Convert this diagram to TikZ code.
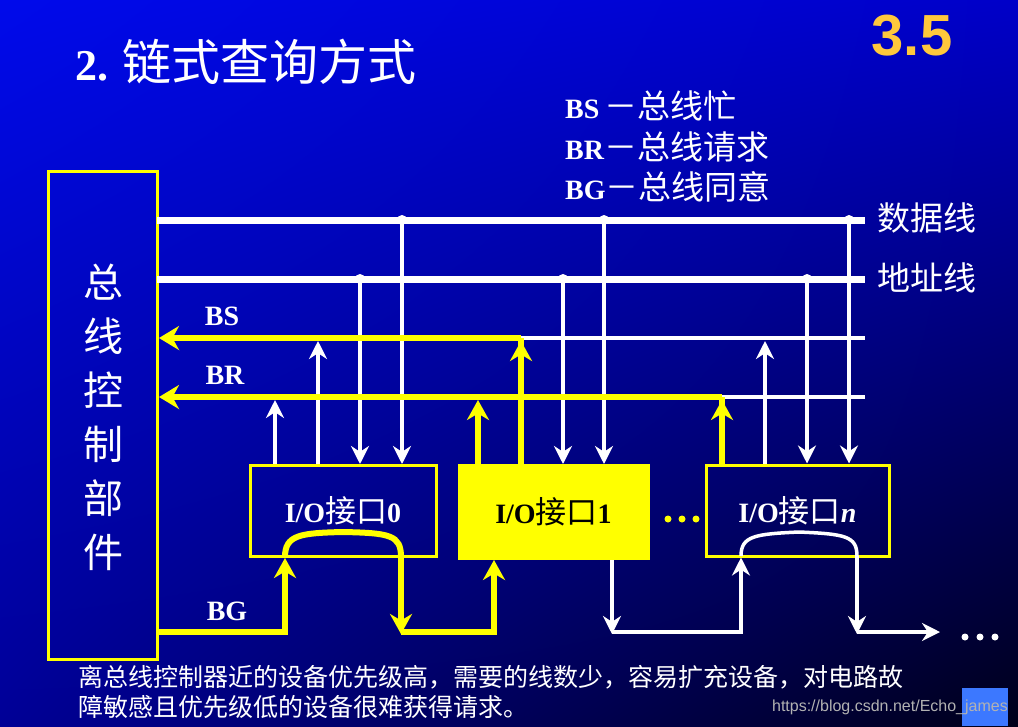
\documentclass[tikz,border=0pt]{standalone}
\usepackage{fontspec}
\setmainfont{Liberation Serif}
\newfontfamily\cjk{Noto Sans CJK SC}
\newfontfamily\hv{Liberation Sans}
\usetikzlibrary{arrows.meta,shadings}
\definecolor{yl}{RGB}{255,255,0}
\definecolor{org}{RGB}{255,200,60}
\definecolor{bgul}{RGB}{0,10,235}
\definecolor{bgur}{RGB}{0,0,200}
\definecolor{bgll}{RGB}{0,0,150}
\definecolor{bglr}{RGB}{0,0,25}
\definecolor{btn}{RGB}{60,120,255}
\tikzset{
 wl/.style={white,line width=3.5pt},
 yline/.style={yl,line width=6pt},
 bus/.style={white,line width=7pt},
 wa/.style={wl,-{Stealth[length=18pt,width=18pt]}},
 ya/.style={yline,-{Stealth[length=20pt,width=22pt]}},
 dotj/.style={circle,fill=white,inner sep=0pt,minimum size=10pt},
 lbl/.style={text=white,font=\bfseries\fontsize{28}{30}\selectfont,inner sep=0pt},
 iobox/.style={draw=yl,line width=3pt,inner sep=0pt,font=\bfseries\fontsize{28}{30}\selectfont},
 ctext/.style={text=white,font=\cjk\fontsize{36}{38}\selectfont,inner sep=0pt},
 bdot/.style={circle,inner sep=0pt,minimum size=7pt}
}
\begin{document}
\begin{tikzpicture}[x=1pt,y=-1pt]
\shade[upper left=bgul,upper right=bgur,lower left=bgll,lower right=bglr] (0,0) rectangle (1018,726);
\useasboundingbox (0,0) rectangle (1018,726);
% titles
\node[anchor=west,text=white,inner sep=0pt] (title) at (75,62) {\fontsize{44}{46}\selectfont\bfseries 2. {\cjk\mdseries\fontsize{49}{50}\selectfont 链式查询方式}};
\node[text=org,inner sep=0pt] (num) at (912,36) {\hv\bfseries\fontsize{58}{60}\selectfont 3.5};
\node[anchor=west,lbl] (l1) at (565,106) {BS\,{\cjk\mdseries\fontsize{33}{34}\selectfont －总线忙}};
\node[anchor=west,lbl] (l2) at (565,147) {BR{\cjk\mdseries\fontsize{33}{34}\selectfont －总线请求}};
\node[anchor=west,lbl] (l3) at (565,187) {BG{\cjk\mdseries\fontsize{33}{34}\selectfont －总线同意}};
% controller
\node[draw=yl,line width=3pt,minimum width=109pt,minimum height=488pt,inner sep=0pt] (ctrl) at (103,415) {};
\foreach \t [count=\i] in {总,线,控,制,部,件}
  \node[ctext,font=\cjk\fontsize{40}{42}\selectfont] (c\i) at (103,228+54*\i) {\t};
% buses
\coordinate (d0) at (157,220); \coordinate (d1) at (865,220);
\coordinate (a0) at (157,279); \coordinate (a1) at (865,279);
\draw[bus] (d0) -- (d1);
\draw[bus] (a0) -- (a1);
\node[anchor=west,ctext,font=\cjk\fontsize{33}{34}\selectfont] (dl) at (877,218) {数据线};
\node[anchor=west,ctext,font=\cjk\fontsize{33}{34}\selectfont] (al) at (877,278) {地址线};
\coordinate (bs0) at (159,338); \coordinate (bsj) at (521,338); \coordinate (bs1) at (865,338);
\coordinate (br0) at (159,397); \coordinate (brj) at (722,397); \coordinate (br1) at (865,397);
\draw[wl] (bsj) -- (bs1);
\draw[wl] (brj) -- (br1);
\node[lbl] (bsl) at (222,316) {BS};
\node[lbl] (brl) at (225,375) {BR};
\node[lbl] (bgl) at (227,611) {BG};
% boxes
\node[iobox,text=white,minimum width=186pt,minimum height=91pt] (b0) at (343,511) {I/O{\cjk\mdseries\fontsize{31}{32}\selectfont 接口}0};
\node[iobox,fill=yl,text=black,minimum width=189pt,minimum height=93pt] (b1) at (553.5,512) {I/O{\cjk\mdseries\fontsize{31}{32}\selectfont 接口}1};
\node[iobox,text=white,minimum width=183pt,minimum height=91pt] (bn) at (797.5,510.5) {I/O{\cjk\mdseries\fontsize{31}{32}\selectfont 接口}\textit{n}};
\foreach \x in {668,682,696} \node[bdot,fill=yl] (yd\x) at (\x,519) {};
% box0 connections
\draw[wa] (b0.north -| 275,0) -- (275,400);
\draw[wa] (b0.north -| 318,0) -- (318,341);
\draw[wa] (360,279) -- (b0.north -| 360,0);
\draw[wa] (402,220) -- (b0.north -| 402,0);
% box1
\draw[ya] (b1.north -| 478,0) -- (478,400);
\draw[yline] (b1.north -| 521,0) -- (bsj);
\draw[ya] (521,370) -- (521,341);
\draw[wa] (563,279) -- (b1.north -| 563,0);
\draw[wa] (604,220) -- (b1.north -| 604,0);
% box n
\draw[yline] (bn.north -| 722,0) -- (brj);
\draw[ya] (722,430) -- (722,400);
\draw[wa] (bn.north -| 765,0) -- (765,341);
\draw[wa] (807,279) -- (bn.north -| 807,0);
\draw[wa] (849,220) -- (bn.north -| 849,0);
% yellow BS/BR to controller
\draw[yline,-{Stealth[length=20pt,width=24pt]}] (bsj) -- (bs0);
\draw[yline,-{Stealth[length=20pt,width=24pt]}] (brj) -- (br0);
% junction dots
\foreach \x in {402,604,849} \node[dotj] (jd\x) at (\x,220) {};
\foreach \x in {360,563,807} \node[dotj] (ja\x) at (\x,279) {};
% BG chain
\draw[ya] (157,632) -- (285,632) -- (b0.south -| 285,0);
\draw[yline] (285,557) .. controls (285,535) and (300,533) .. (343,532) .. controls (390,533) and (401,535) .. (401,557);
\draw[ya] (401,557) -- (401,634);
\draw[ya] (401,632) -- (494,632) -- (b1.south -| 494,0);
\draw[wa] (b1.south -| 612,0) -- (612,634);
\draw[wa] (612,632) -- (741,632) -- (bn.south -| 741,0);
\draw[wl] (741,556) .. controls (741,536) and (755,534) .. (799,532) .. controls (845,534) and (857,536) .. (857,556);
\draw[wa] (857,556) -- (857,634);
\draw[wa] (857,632) -- (940,632);
\foreach \x in {965,980,995} \node[bdot,fill=white] (wd\x) at (\x,637) {};
% bottom text
\node[anchor=west,text=white,inner sep=0pt,font=\cjk\fontsize{25}{27}\selectfont] (t1) at (78,677) {离总线控制器近的设备优先级高，需要的线数少，容易扩充设备，对电路故};
\node[anchor=west,text=white,inner sep=0pt,font=\cjk\fontsize{25}{27}\selectfont] (t2) at (78,707) {障敏感且优先级低的设备很难获得请求。};
% watermark
\fill[btn] (962,688) rectangle (1008,726);
\node[anchor=east,text=gray!60,inner sep=0pt,font=\hv\fontsize{16}{18}\selectfont] (wm) at (1008,707) {https://blog.csdn.net/Echo\_james};
\end{tikzpicture}
\end{document}
